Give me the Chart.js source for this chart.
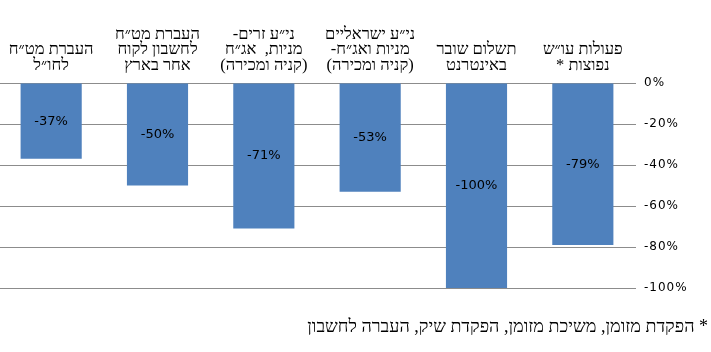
<!DOCTYPE html>
<html>
<head>
<meta charset="utf-8">
<script src="https://cdn.jsdelivr.net/npm/chart.js@4"></script>
<style>
  html, body { margin: 0; padding: 0; background: #fff; overflow: hidden; }
  #wrap { position: absolute; left: -2px; top: 0; width: 713px; height: 352px; }
</style>
</head>
<body>
<div id="wrap"><canvas id="c"></canvas></div>
<script>
// Categories (left to right as drawn)
const categories = [
  ["העברת מט״ח", "לחו״ל"],
  ["העברת מט״ח", "לחשבון לקוח", "אחר בארץ"],
  ["-ני״ע זרים", "מניות,  אג״ח", "(קניה ומכירה)"],
  ["ני״ע ישראליים", "-מניות ואג״ח", "(קניה ומכירה)"],
  ["תשלום שובר", "באינטרנט"],
  ["פעולות עו״ש", "* נפוצות"]
];
const values = [-37, -50, -71, -53, -100, -79];
const footnote = "הפקדת מזומן, משיכת מזומן, הפקדת שיק, העברה לחשבון *";
const yTicks = [0, -20, -40, -60, -80, -100];

const barLabels = {
  id: 'barLabels',
  afterDatasetsDraw(chart) {
    const ctx = chart.ctx;
    const meta = chart.getDatasetMeta(0);
    ctx.save();
    ctx.font = '13px "DejaVu Sans"';
    ctx.fillStyle = '#000';
    ctx.textAlign = 'center';
    ctx.textBaseline = 'middle';
    meta.data.forEach((bar, i) => {
      const p = bar.getProps(['x', 'y', 'base'], true);
      ctx.fillText(values[i] + '%', p.x, (p.y + p.base) / 2);
    });
    ctx.restore();
    // slightly spaced y tick labels (drawn after datasets, z > 0)
    ctx.letterSpacing = '1px';
  },
  afterDraw(chart) {
    chart.ctx.letterSpacing = '0px';
  }
};

new Chart(document.getElementById('c'), {
  type: 'bar',
  data: {
    labels: categories,
    datasets: [{
      data: values,
      backgroundColor: '#4F81BD',
      borderWidth: 0,
      categoryPercentage: 1,
      barPercentage: 0.575
    }]
  },
  options: {
    responsive: true,
    maintainAspectRatio: false,
    animation: false,
    events: [],
    layout: { padding: { left: 0, right: 3, top: 0, bottom: 0 } },
    plugins: {
      legend: { display: false },
      tooltip: { enabled: false },
      title: {
        display: true,
        position: 'bottom',
        align: 'end',
        text: footnote,
        color: '#000',
        font: { family: '"Liberation Serif"', size: 18, weight: 'normal', lineHeight: '20px' },
        padding: { top: 29, bottom: 15 }
      }
    },
    scales: {
      x: {
        position: 'top',
        grid: { display: false, drawTicks: false },
        border: { display: false },
        ticks: {
          color: '#000',
          font: { family: '"Liberation Serif"', size: 16.5, lineHeight: '15.5px' },
          maxRotation: 0,
          minRotation: 0,
          autoSkip: false,
          padding: 10
        },
        afterFit(scale) { scale.height = 83; }
      },
      y: {
        position: 'right',
        min: -100,
        max: 0,
        afterBuildTicks(scale) { scale.ticks = yTicks.map(v => ({ value: v })); },
        grid: { color: '#8c8c8c', lineWidth: 1, drawTicks: false },
        border: { display: false },
        ticks: {
          z: 1,
          color: '#000',
          font: { family: '"DejaVu Sans"', size: 12 },
          padding: 8,
          callback: (v) => v + '%'
        },
        afterFit(scale) { scale.width = 72; }
      }
    }
  },
  plugins: [barLabels]
});
</script>
</body>
</html>
